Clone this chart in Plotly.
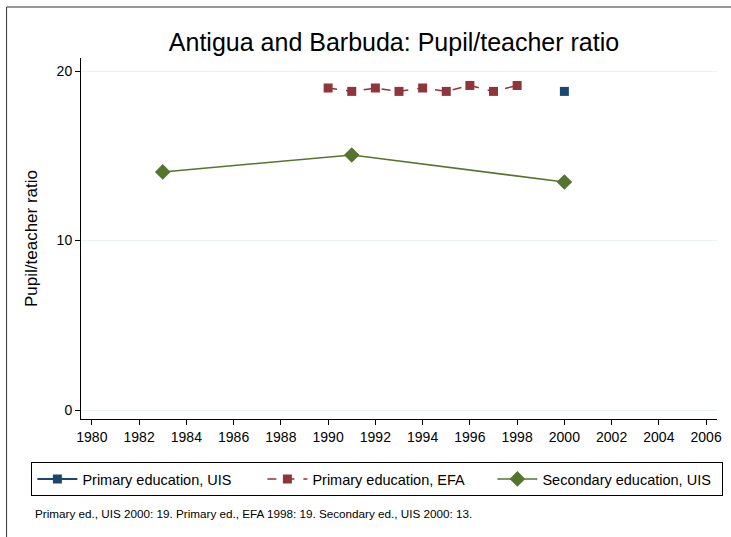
import plotly.graph_objects as go

# data
uis_primary_years = [2000]
uis_primary_vals = [18.8]

efa_primary_years = [1990, 1991, 1992, 1993, 1994, 1995, 1996, 1997, 1998]
efa_primary_vals = [19.0, 18.8, 19.0, 18.8, 19.0, 18.8, 19.15, 18.8, 19.15]

uis_secondary_years = [1983, 1991, 2000]
uis_secondary_vals = [14.05, 15.05, 13.45]

x_ticks = list(range(1980, 2007, 2))
y_ticks = [0, 10, 20]

title = "Antigua and Barbuda: Pupil/teacher ratio"
footnote = "Primary ed., UIS 2000: 19. Primary ed., EFA 1998: 19. Secondary ed., UIS 2000: 13."

W, H = 731, 537
L, R, T, B = 81, 9, 58, 118
pw, ph = W - L - R, H - T - B


def px(x):
    return (x - L) / pw


def py(y):
    return (H - B - y) / ph


fig = go.Figure()

fig.add_trace(go.Scatter(
    x=uis_primary_years, y=uis_primary_vals,
    mode='lines+markers', name='Primary education, UIS',
    line=dict(color='#1a476f', width=2),
    marker=dict(symbol='square', size=9, color='#1a476f')
))

fig.add_trace(go.Scatter(
    x=efa_primary_years, y=efa_primary_vals,
    mode='lines+markers', name='Primary education, EFA',
    line=dict(color='#90353b', width=1.5, dash='dash'),
    marker=dict(symbol='square', size=9, color='#90353b')
))

fig.add_trace(go.Scatter(
    x=uis_secondary_years, y=uis_secondary_vals,
    mode='lines+markers', name='Secondary education, UIS',
    line=dict(color='#55752f', width=1.5),
    marker=dict(symbol='diamond', size=12, color='#55752f')
))

fig.update_layout(
    width=W, height=H,
    margin=dict(l=L, r=R, t=T, b=B),
    paper_bgcolor='white',
    plot_bgcolor='white',
    font=dict(family='Arial, Liberation Sans, sans-serif', size=13, color='black'),
    title=dict(text=title, x=(394 / W), xanchor='center', y=1 - 42 / H, yanchor='middle',
               font=dict(size=25)),
    xaxis=dict(
        range=[1979.54, 2006.46], tickvals=x_ticks,
        showgrid=False, zeroline=False,
        showline=True, linecolor='black', linewidth=1,
        ticks='outside', ticklen=5, tickcolor='black',
        tickfont=dict(size=14),
    ),
    yaxis=dict(
        range=[-0.53, 20.77], tickvals=y_ticks,
        showgrid=True, gridcolor='#eaf2f3', gridwidth=1, zeroline=False,
        showline=True, linecolor='black', linewidth=1,
        ticks='outside', ticklen=5, tickcolor='black',
        tickfont=dict(size=14),
        title=dict(text='Pupil/teacher ratio', font=dict(size=17), standoff=14),
    ),
    legend=dict(
        orientation='h',
        x=px(31), xanchor='left',
        y=py(462), yanchor='top',
        bordercolor='black', borderwidth=1,
        font=dict(size=14.5),
        entrywidth=175,
        itemwidth=40,
        tracegroupgap=0,
    ),
    shapes=[dict(
        type='rect', xref='paper', yref='paper',
        x0=px(6), x1=px(W + 10), y0=py(H + 10), y1=py(7),
        line=dict(color='#333333', width=1), fillcolor='rgba(0,0,0,0)', layer='below'
    )],
    annotations=[dict(
        text=footnote, xref='paper', yref='paper',
        x=px(33), xanchor='left', y=py(513), yanchor='middle',
        showarrow=False, font=dict(size=11.7)
    )],
)

fig.write_html("out.html", config={'displayModeBar': False},
               post_script="document.body.style.margin='0';document.body.style.overflow='hidden';")
